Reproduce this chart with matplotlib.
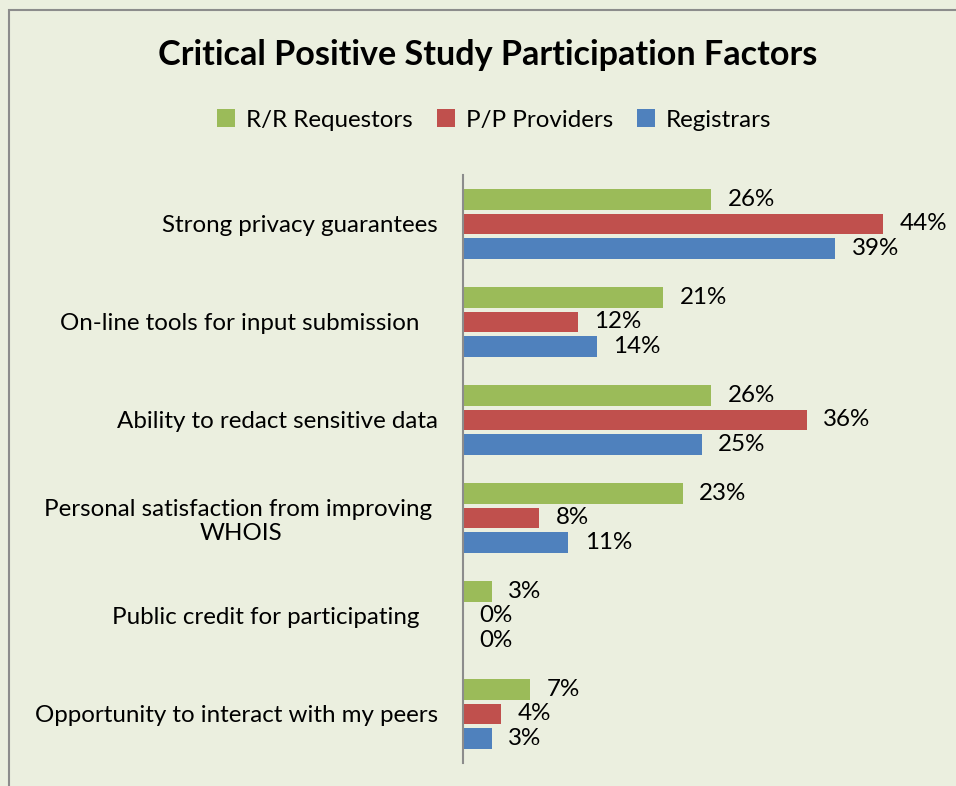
import numpy as np
import matplotlib.pyplot as plt
from matplotlib.patches import Rectangle

plt.rcParams['font.family'] = ['Lato', 'DejaVu Sans']

# data
categories = ['Strong privacy guarantees',
              'On-line tools for input submission   ',
              'Ability to redact sensitive data',
              'Personal satisfaction from improving \nWHOIS',
              'Public credit for participating   ',
              'Opportunity to interact with my peers']
series = ['R/R Requestors', 'P/P Providers', 'Registrars']
requestors = [26, 21, 26, 23, 3, 7]
providers = [44, 12, 36, 8, 0, 4]
registrars = [39, 14, 25, 11, 0, 3]
colors = ['#9BBB59', '#C0504D', '#4F81BD']
bg = '#EBEFDF'
fs = 17.4

W, H = 956, 786
fig = plt.figure(figsize=(W / 100, H / 100), dpi=100)
fig.patch.set_facecolor(bg)
# outer chart border (right and bottom are cropped off in the original)
fig.add_artist(Rectangle((9 / W, -0.1), 1.2, 1 - 10 / H + 0.1, transform=fig.transFigure,
                         fill=False, edgecolor='#8C8C8C', linewidth=1.5))

# axes: 0% at x=463, 1% ~ 9.545 px, plot from y=175 to y=763
x0, x1 = 463, 950
ytop, ybot = 175, 763
ax = fig.add_axes([x0 / W, 1 - ybot / H, (x1 - x0) / W, (ybot - ytop) / H])
ax.set_facecolor(bg)
ax.patch.set_alpha(0)

y = np.arange(len(categories))
pitch = 0.25
hgt = 0.205
for k, (vals, lab) in enumerate(zip([requestors, providers, registrars], series)):
    bars = ax.barh(y + (k - 1) * pitch, vals, height=hgt, color=colors[k], label=lab)
    ax.bar_label(bars, labels=[f'{v}%' for v in vals], padding=12, fontsize=fs)

ax.set_xlim(0, (x1 - x0) / 9.545)
ax.set_ylim(len(categories) - 0.5, -0.5)
ax.set_xticks([])
ax.set_yticks(y)
ax.set_yticklabels(categories, fontsize=fs, multialignment='center')
ax.tick_params(axis='y', length=0, pad=18)
for s in ['top', 'right', 'bottom']:
    ax.spines[s].set_visible(False)
ax.spines['left'].set_color('#8C8C8C')
ax.spines['left'].set_linewidth(1.5)

fig.text(488 / W, 1 - 55 / H, 'Critical Positive Study Participation Factors',
         ha='center', va='center', fontsize=24.6, fontweight='bold')

leg = fig.legend(loc='center', bbox_to_anchor=(494 / W, 1 - 120 / H), ncol=3,
                 frameon=False, fontsize=fs, handlelength=0.75, handleheight=0.75,
                 handletextpad=0.45, columnspacing=1.0)

fig.savefig('out.png', dpi=100, facecolor=bg)
